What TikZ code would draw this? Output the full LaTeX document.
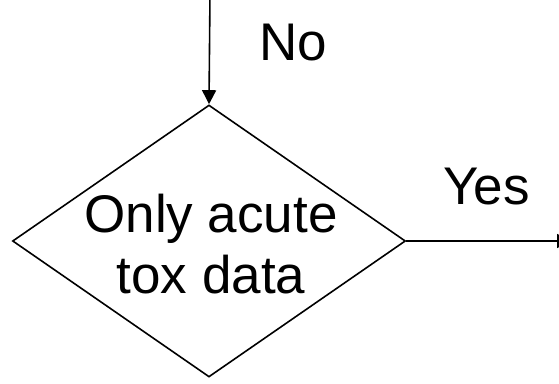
\documentclass[tikz,border=0pt]{standalone}
\usepackage{fontspec}
\setmainfont{Liberation Sans}
\usetikzlibrary{shapes.geometric,arrows.meta}
\begin{document}
\begin{tikzpicture}[x=1pt,y=1pt,
  line/.style={line width=1.6pt,draw=black},
  arr/.style={line,-{Triangle[length=14pt,width=14pt]}},
  big/.style={font=\fontsize{53}{61}\selectfont,inner sep=0pt},
  decision/.style={diamond,draw=black,line width=1.6pt,minimum width=393pt,minimum height=272pt,inner sep=0pt}]
\useasboundingbox (0,0) rectangle (559,383);
\node[decision] (d) at (209,142) {};
\node[big,align=center,anchor=base] (t) at (211,90) {Only acute\\tox data};
\coordinate (top) at (210,390);
\coordinate (out) at (571,142);
\draw[arr] (top) -- (d.north);
\draw[arr] (d.east) -- (out);
\node[big,anchor=base west] (no) at (259,322) {No};
\node[big,anchor=base west] (yes) at (443,178) {Yes};
\end{tikzpicture}
\end{document}
